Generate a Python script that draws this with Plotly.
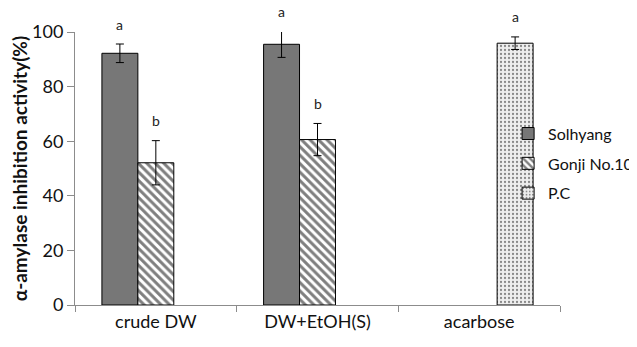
import plotly.graph_objects as go

categories = ["crude DW", "DW+EtOH(S)", "acarbose"]
solhyang = [92.2, 95.5, None]
solhyang_err = [3.4, 4.8, 0]
gonji = [52.1, 60.6, None]
gonji_err = [8.1, 5.9, 0]
pc = [None, None, 95.9]
pc_err = [0, 0, 2.3]
letters_solhyang = ["a", "a", ""]
letters_gonji = ["b", "b", ""]
letters_pc = ["", "", "a"]

FONT = "Lato"
YMAX = 100

fig = go.Figure()
fig.add_trace(go.Bar(
    x=categories, y=solhyang, name="Solhyang", legendgroup="g1",
    marker=dict(color="#777777", line=dict(color="black", width=1)),
    error_y=dict(type="data", array=solhyang_err, color="black", thickness=1, width=4),
))
fig.add_trace(go.Bar(
    x=categories, y=gonji, name="Gonji No.10", legendgroup="g2",
    marker=dict(color="white", line=dict(color="black", width=1),
                pattern=dict(shape="\\", fgcolor="black", bgcolor="white", size=6, solidity=0.5)),
    error_y=dict(type="data", array=gonji_err, color="black", thickness=1, width=4),
))
fig.add_trace(go.Bar(
    x=categories, y=pc, name="P.C", legendgroup="g3",
    marker=dict(color="white", line=dict(color="black", width=1),
                pattern=dict(shape=".", fgcolor="#222222", bgcolor="#eeeeee", size=4, solidity=0.25)),
    error_y=dict(type="data", array=pc_err, color="black", thickness=1, width=4),
))

# significance letters, placed above each error bar
offsets = [-1, 0, 1]
series = [(solhyang, solhyang_err, letters_solhyang),
          (gonji, gonji_err, letters_gonji),
          (pc, pc_err, letters_pc)]
for si, (vals, errs, letts) in enumerate(series):
    for ci, cat in enumerate(categories):
        if vals[ci] is None or not letts[ci]:
            continue
        fig.add_annotation(
            x=ci + offsets[si] * (1 / 4.5), y=(vals[ci] + errs[ci]) / YMAX,
            xref="x", yref="paper", text=letts[ci], showarrow=False,
            font=dict(family=FONT, size=14, color="#222222"),
            yanchor="middle", yshift=20,
        )

# the page adds an 8px body margin, so the figure is sized to fit the window
fig.update_layout(
    width=629, height=339,
    margin=dict(l=67, r=77, t=24, b=42, autoexpand=False),
    paper_bgcolor="white", plot_bgcolor="white",
    barmode="group", bargap=0.333, bargroupgap=0,
    font=dict(family=FONT, size=16, color="#111111"),
    showlegend=True,
    legend=dict(x=0.893, y=0.69, xanchor="left", yanchor="top",
                font=dict(family=FONT, size=16, color="#111111"),
                tracegroupgap=6, bgcolor="rgba(0,0,0,0)", itemwidth=30),
    xaxis=dict(
        type="category", range=[-0.5, 2.5], automargin=False,
        showline=True, linecolor="#8c8c8c", linewidth=1,
        ticks="outside", tickson="boundaries", ticklen=6, tickcolor="#8c8c8c",
        tickfont=dict(family=FONT, size=18, color="#111111"),
        showgrid=False,
    ),
    yaxis=dict(
        range=[0, YMAX], tickvals=[0, 20, 40, 60, 80, 100], automargin=False,
        showline=True, linecolor="#8c8c8c", linewidth=1,
        ticks="outside", ticklen=7, tickcolor="#8c8c8c",
        tickfont=dict(family=FONT, size=18, color="#111111"),
        showgrid=False, zeroline=False,
        title=dict(text="<b>α-amylase inhibition activity(%)</b>",
                   font=dict(family=FONT, size=19, color="#111111"), standoff=6),
    ),
)

fig.write_html("out.html")
